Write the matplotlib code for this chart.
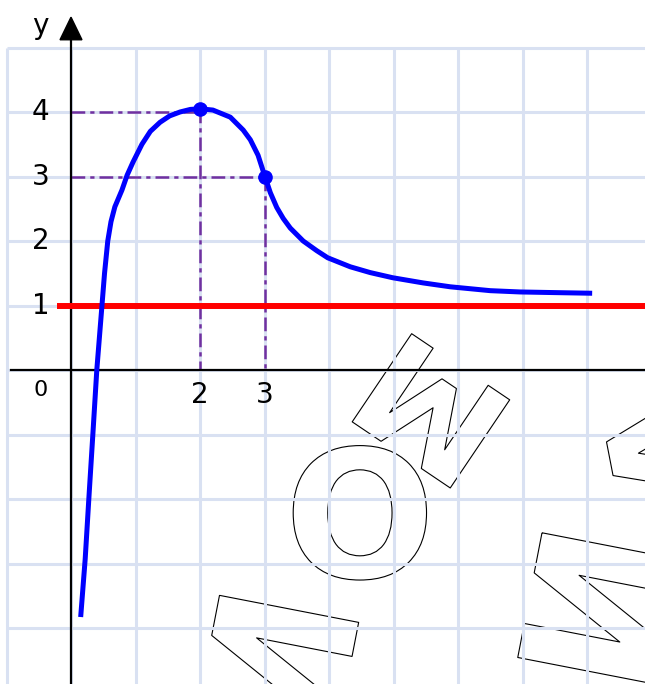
import matplotlib
matplotlib.use("Agg")
import matplotlib.pyplot as plt
import matplotlib.patheffects as pe
from matplotlib.patches import Polygon

# ---- data ----
curve_x = [0.15, 0.22, 0.28, 0.34, 0.40, 0.44, 0.48, 0.52, 0.57, 0.62, 0.68,
           0.79, 0.87, 0.96, 1.10, 1.23, 1.38, 1.53, 1.69, 1.85, 2.00, 2.20,
           2.47, 2.67, 2.78, 2.90, 3.00, 3.09, 3.19, 3.29, 3.40, 3.60, 3.81,
           3.98, 4.33, 4.64, 4.99, 5.46, 5.88, 6.50, 6.96, 7.50, 8.08]
curve_y = [-3.83, -2.93, -1.94, -0.98, 0.00, 0.50, 1.00, 1.50, 2.00, 2.30, 2.53,
           2.79, 3.02, 3.22, 3.50, 3.70, 3.84, 3.94, 4.00, 4.04, 4.05, 4.03,
           3.92, 3.72, 3.57, 3.33, 3.02, 2.75, 2.52, 2.35, 2.20, 2.00, 1.85,
           1.74, 1.60, 1.51, 1.43, 1.35, 1.29, 1.23, 1.21, 1.20, 1.19]
key_x = [2, 3]
key_y = [4.05, 3.0]
asymptote_y = 1
y_tick_values = [1, 2, 3, 4]
y_tick_labels = ["1", "2", "3", "4"]
x_tick_values = [2, 3]
x_tick_labels = ["2", "3"]
origin_label = "0"
y_axis_label = "y"

unit = 64.5
W, H = 645, 684
ox, oy = 71, 370

fig = plt.figure(figsize=(W / 100, H / 100), dpi=100)
ax = fig.add_axes([0, 0, 1, 1])
x0, x1 = -ox / unit, (W - ox) / unit
y0, y1 = (oy - H) / unit, oy / unit
ax.set_xlim(x0, x1)
ax.set_ylim(y0, y1)
ax.axis("off")

grid_c = "#d9e1f2"
for gx in range(-1, 9):
    ax.plot([gx, gx], [y0, 5], color=grid_c, lw=2.2, zorder=1, solid_capstyle="butt")
for gy in range(-4, 6):
    ax.plot([-1, x1], [gy, gy], color=grid_c, lw=2.2, zorder=1, solid_capstyle="butt")

# watermark (outlined letters)
wm = dict(color=(0, 0, 0, 0), fontweight="bold", family="DejaVu Sans",
          ha="center", va="center", zorder=0.5, clip_on=True,
          path_effects=[pe.Stroke(linewidth=0.8, foreground="black")])
ax.text(4.48, -2.45, "О", fontsize=128, **wm)
ax.text(5.69, -0.47, "M", fontsize=105, rotation=146, **wm)
ax.text(3.45, -4.72, "И", fontsize=140, rotation=79, **wm)
ax.text(8.45, -3.75, "И", fontsize=140, rotation=79, **wm)
ax.text(9.0, -1.25, "V", fontsize=110, rotation=-79, **wm)

# axes
ax.plot([x0 + 0.17, x1], [0, 0], color="black", lw=1.6, zorder=3)
ax.plot([0, 0], [y0, 5.15], color="black", lw=1.6, zorder=3)
ax.add_patch(Polygon([[-0.17, 5.12], [0.17, 5.12], [0, 5.47]], closed=True,
                     color="black", zorder=3))
ax.text(-0.47, 5.33, y_axis_label, fontsize=20, ha="center", va="center")

# dashed helper lines
purple = "#7030a0"
dash = (0, (5.5, 2.0, 1.7, 2.0))
lw_d = 1.8
ax.plot([0, key_x[0]], [key_y[0] - 0.05, key_y[0] - 0.05], color=purple, lw=lw_d, ls=dash, zorder=2)
ax.plot([key_x[0], key_x[0]], [key_y[0], 0], color=purple, lw=lw_d, ls=dash, zorder=2)
ax.plot([0, key_x[1]], [key_y[1], key_y[1]], color=purple, lw=lw_d, ls=dash, zorder=2)
ax.plot([key_x[1], key_x[1]], [key_y[1], 0], color=purple, lw=lw_d, ls=dash, zorder=2)

# asymptote
ax.plot([-0.22, x1], [asymptote_y, asymptote_y], color="#ff0000", lw=4.3, zorder=4,
        solid_capstyle="butt")

# curve
ax.plot(curve_x, curve_y, color="#0000ff", lw=3.6, zorder=5,
        solid_joinstyle="round", solid_capstyle="butt")
ax.plot(key_x, key_y, "o", color="#0000ff", ms=9.5, zorder=6)

# tick labels
for v, t in zip(y_tick_values, y_tick_labels):
    ax.text(-0.47, v, t, fontsize=20, ha="center", va="center")
for v, t in zip(x_tick_values, x_tick_labels):
    ax.text(v, -0.39, t, fontsize=20, ha="center", va="center")
ax.text(-0.47, -0.31, origin_label, fontsize=16, ha="center", va="center")

fig.savefig("out.png", dpi=100)
